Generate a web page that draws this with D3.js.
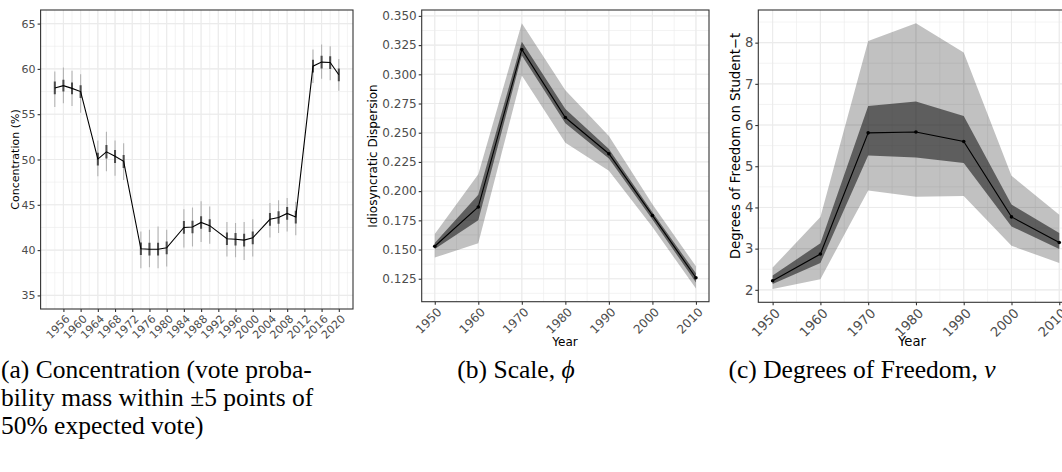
<!DOCTYPE html>
<html>
<head>
<meta charset="utf-8">
<script src="https://cdn.jsdelivr.net/npm/d3@7"></script>
<style>
  html, body { margin: 0; padding: 0; background: #fff; }
  svg { display: block; }
</style>
</head>
<body>
<script>
// ---------- (a) Concentration by election year ----------
const concYears = [1954, 1956, 1958, 1960, 1964, 1966, 1968, 1970, 1974, 1976, 1978, 1980, 1984, 1986,
                   1988, 1990, 1994, 1996, 1998, 2000, 2004, 2006, 2008, 2010, 2014, 2016, 2018, 2020];
const concMean = [57.9, 58.15, 57.85, 57.5, 50.05, 50.85, 50.35, 49.8, 40.15, 40.1, 40.1, 40.25, 42.5, 42.55,
                  43.05, 42.7, 41.25, 41.2, 41.1, 41.35, 43.4, 43.6, 44.05, 43.65, 60.3, 60.75, 60.7, 59.35];
const concLo95 = [55.8, 56.2, 55.9, 55.15, 48.15, 48.7, 48.2, 47.75, 38.0, 38.1, 38.0, 38.2, 40.3, 40.4,
                  40.9, 40.7, 39.3, 39.2, 38.9, 39.3, 41.4, 41.9, 42.05, 41.65, 58.45, 58.9, 58.75, 57.6];
const concHi95 = [59.7, 60.15, 59.8, 59.4, 52.1, 53.05, 52.1, 51.8, 42.05, 42.25, 42.6, 42.25, 44.5, 44.7,
                  45.4, 44.8, 43.1, 43.0, 43.1, 43.4, 45.2, 45.5, 45.75, 45.35, 62.15, 62.7, 62.5, 61.1];
const concLo50 = [57.2, 57.5, 57.2, 56.8, 49.35, 50.1, 49.6, 49.05, 39.45, 39.4, 39.4, 39.55, 41.8, 41.85,
                  42.35, 42.0, 40.55, 40.5, 40.4, 40.65, 42.7, 42.9, 43.35, 42.95, 59.6, 60.05, 60.0, 58.65];
const concHi50 = [58.6, 58.8, 58.5, 58.2, 50.75, 51.6, 51.05, 50.5, 40.85, 40.8, 40.8, 40.95, 43.2, 43.25,
                  43.75, 43.4, 41.95, 41.9, 41.8, 42.05, 44.1, 44.3, 44.75, 44.35, 61.0, 61.45, 61.4, 60.05];
const concXTicks = [1956, 1960, 1964, 1968, 1972, 1976, 1980, 1984, 1988, 1992, 1996, 2000, 2004, 2008, 2012, 2016, 2020];
const concYTicks = [35, 40, 45, 50, 55, 60, 65];

// ---------- (b) Scale and (c) degrees of freedom by decade ----------
const decades = [1950, 1960, 1970, 1980, 1990, 2000, 2010];
const phiMean = [0.1528, 0.1864, 0.3213, 0.2630, 0.2320, 0.1792, 0.1258];
const phiLo95 = [0.1431, 0.1554, 0.2989, 0.2415, 0.2174, 0.1692, 0.1167];
const phiHi95 = [0.1634, 0.2145, 0.3437, 0.2863, 0.2472, 0.1887, 0.1356];
const phiLo50 = [0.1505, 0.1750, 0.3161, 0.2582, 0.2280, 0.1758, 0.1218];
const phiHi50 = [0.1557, 0.1970, 0.3279, 0.2702, 0.2360, 0.1820, 0.1296];
const phiYTicks = [0.125, 0.150, 0.175, 0.200, 0.225, 0.250, 0.275, 0.300, 0.325, 0.350];

const nuMean = [2.22, 2.87, 5.81, 5.83, 5.60, 3.77, 3.15];
const nuLo95 = [2.02, 2.26, 4.41, 4.26, 4.28, 3.07, 2.65];
const nuHi95 = [2.54, 3.77, 8.04, 8.47, 7.76, 4.77, 3.82];
const nuLo50 = [2.14, 2.65, 5.26, 5.21, 5.08, 3.54, 2.99];
const nuHi50 = [2.35, 3.13, 6.46, 6.57, 6.22, 4.07, 3.38];
const nuYTicks = [2, 3, 4, 5, 6, 7, 8];

const W = 1062, H = 472;
const SANS = "'DejaVu Sans', 'Liberation Sans', Arial, sans-serif";
const SERIF = "'Liberation Serif', 'Times New Roman', 'DejaVu Serif', serif";

const svg = d3.select("body").append("svg")
  .attr("width", W).attr("height", H)
  .attr("viewBox", `0 0 ${W} ${H}`);
svg.append("rect").attr("width", W).attr("height", H).attr("fill", "#fff");

// ggplot-style 5% padding around a data range
function padded(lo, hi) {
  const r = hi - lo;
  return [lo - 0.05 * r, hi + 0.05 * r];
}

// midpoints between consecutive breaks, extended one step at each end
function minorBreaks(major, domain) {
  const step = major[1] - major[0];
  const ext = [major[0] - step, ...major, major[major.length - 1] + step];
  const out = [];
  for (let i = 0; i < ext.length - 1; i++) out.push(ext[i], (ext[i] + ext[i + 1]) / 2);
  out.push(ext[ext.length - 1]);
  const [a, b] = domain[0] < domain[1] ? domain : [domain[1], domain[0]];
  return out.filter(v => v >= a && v <= b);
}

let clipId = 0;
function panel(cfg) {
  const g = svg.append("g");
  const x = d3.scaleLinear().domain(cfg.xDomain).range([cfg.left, cfg.right]);
  const y = d3.scaleLinear().domain(cfg.yDomain).range([cfg.bottom, cfg.top]);
  const id = "clip" + (clipId++);
  g.append("clipPath").attr("id", id).append("rect")
    .attr("x", cfg.left).attr("y", cfg.top)
    .attr("width", cfg.right - cfg.left).attr("height", cfg.bottom - cfg.top);

  const plot = g.append("g").attr("clip-path", `url(#${id})`);
  const grid = plot.append("g").attr("stroke", "#ebebeb").attr("fill", "none");
  const xMin = minorBreaks(cfg.xTicks, cfg.xDomain);
  const yMin = minorBreaks(cfg.yTicks, cfg.yDomain);
  grid.selectAll(".xm").data(xMin).join("line").attr("stroke-width", 0.6)
    .attr("x1", d => x(d)).attr("x2", d => x(d)).attr("y1", cfg.top).attr("y2", cfg.bottom);
  grid.selectAll(".ym").data(yMin).join("line").attr("stroke-width", 0.6)
    .attr("y1", d => y(d)).attr("y2", d => y(d)).attr("x1", cfg.left).attr("x2", cfg.right);
  grid.selectAll(".xM").data(cfg.xTicks).join("line").attr("stroke-width", 1.1)
    .attr("x1", d => x(d)).attr("x2", d => x(d)).attr("y1", cfg.top).attr("y2", cfg.bottom);
  grid.selectAll(".yM").data(cfg.yTicks).join("line").attr("stroke-width", 1.1)
    .attr("y1", d => y(d)).attr("y2", d => y(d)).attr("x1", cfg.left).attr("x2", cfg.right);

  cfg.draw(plot.append("g"), x, y);

  g.append("rect")
    .attr("x", cfg.left).attr("y", cfg.top)
    .attr("width", cfg.right - cfg.left).attr("height", cfg.bottom - cfg.top)
    .attr("fill", "none").attr("stroke", "#333").attr("stroke-width", 1.1);

  // y axis
  const ya = g.append("g").attr("transform", `translate(${cfg.left},0)`)
    .call(d3.axisLeft(y).tickValues(cfg.yTicks).tickFormat(cfg.yFmt).tickSize(3).tickPadding(2));
  ya.select(".domain").remove();
  ya.selectAll(".tick line").attr("stroke", "#333").attr("stroke-width", 1.1);
  ya.selectAll(".tick text").attr("fill", "#4d4d4d")
    .style("font-family", SANS).style("font-size", cfg.fs + "px");

  // x axis with labels at 45 degrees
  const xa = g.append("g").attr("transform", `translate(0,${cfg.bottom})`)
    .call(d3.axisBottom(x).tickValues(cfg.xTicks).tickFormat(d3.format("d")).tickSize(3));
  xa.select(".domain").remove();
  xa.selectAll(".tick line").attr("stroke", "#333").attr("stroke-width", 1.1);
  xa.selectAll(".tick text")
    .attr("fill", "#4d4d4d").attr("text-anchor", "end")
    .attr("x", 0).attr("y", 0).attr("dy", "0.72em")
    .attr("transform", `translate(1,${cfg.labGap}) rotate(-45)`)
    .style("font-family", SANS).style("font-size", cfg.fs + "px");

  // titles
  g.append("text")
    .attr("transform", `translate(${cfg.yTitleX},${cfg.yTitleY}) rotate(-90)`)
    .attr("text-anchor", "middle").attr("fill", "#000")
    .style("font-family", SANS).style("font-size", cfg.fs + "px")
    .text(cfg.yTitle);
  if (cfg.xTitle) {
    g.append("text")
      .attr("x", cfg.xTitleX).attr("y", cfg.xTitleY)
      .attr("text-anchor", "middle").attr("fill", "#000")
      .style("font-family", SANS).style("font-size", cfg.fs + "px")
      .text(cfg.xTitle);
  }
}

// ribbons + line + points for the decade panels
function bandDraw(lo95, hi95, lo50, hi50, mean) {
  return (g, x, y) => {
    const area = (lo, hi) => d3.area()
      .x((d, i) => x(decades[i])).y0((d, i) => y(lo[i])).y1((d, i) => y(hi[i]));
    g.append("path").datum(decades).attr("d", area(lo95, hi95)).attr("fill", "#000").attr("fill-opacity", 0.245);
    g.append("path").datum(decades).attr("d", area(lo50, hi50)).attr("fill", "#000").attr("fill-opacity", 0.51);
    g.append("path").datum(decades)
      .attr("d", d3.line().x((d, i) => x(decades[i])).y((d, i) => y(mean[i])))
      .attr("fill", "none").attr("stroke", "#000").attr("stroke-width", 1.1);
    g.selectAll("circle").data(decades).join("circle")
      .attr("cx", d => x(d)).attr("cy", (d, i) => y(mean[i])).attr("r", 1.8).attr("fill", "#000");
  };
}

// (a)
panel({
  left: 40.6, right: 353, top: 10, bottom: 309,
  xDomain: padded(d3.min(concYears), d3.max(concYears)),
  yDomain: padded(35, 65),
  xTicks: concXTicks, yTicks: concYTicks,
  yFmt: d3.format("d"), fs: 11, labGap: 5,
  yTitle: "Concentration (%)", yTitleX: 19, yTitleY: 159.5,
  draw: (g, x, y) => {
    g.selectAll(".o").data(concYears).join("line")
      .attr("x1", d => x(d)).attr("x2", d => x(d))
      .attr("y1", (d, i) => y(concLo95[i])).attr("y2", (d, i) => y(concHi95[i]))
      .attr("stroke", "#b3b3b3").attr("stroke-width", 1.1);
    g.selectAll(".n").data(concYears).join("line")
      .attr("x1", d => x(d)).attr("x2", d => x(d))
      .attr("y1", (d, i) => y(concLo50[i])).attr("y2", (d, i) => y(concHi50[i]))
      .attr("stroke", "#4a4a4a").attr("stroke-width", 2);
    g.append("path").datum(concYears)
      .attr("d", d3.line().x(d => x(d)).y((d, i) => y(concMean[i])))
      .attr("fill", "none").attr("stroke", "#000").attr("stroke-width", 1.1);
  }
});

// (b)
panel({
  left: 421.7, right: 709, top: 10, bottom: 301.7,
  xDomain: padded(1950, 2010),
  yDomain: padded(d3.min(phiLo95), d3.max(phiHi95)),
  xTicks: decades, yTicks: phiYTicks,
  yFmt: d3.format(".3f"), fs: 12, labGap: 5,
  yTitle: "Idiosyncratic Dispersion", yTitleX: 376.5, yTitleY: 156,
  xTitle: "Year", xTitleX: 565, xTitleY: 346,
  draw: bandDraw(phiLo95, phiHi95, phiLo50, phiHi50, phiMean)
});

// (c)
panel({
  left: 758.3, right: 1073.6, top: 10, bottom: 302.3,
  xDomain: padded(1950, 2010),
  yDomain: padded(d3.min(nuLo95), d3.max(nuHi95)),
  xTicks: decades, yTicks: nuYTicks,
  yFmt: d3.format("d"), fs: 13.2, labGap: 5,
  yTitle: "Degrees of Freedom on Student\u2212t", yTitleX: 739.5, yTitleY: 146,
  xTitle: "Year", xTitleX: 912, xTitleY: 346,
  draw: bandDraw(nuLo95, nuHi95, nuLo50, nuHi50, nuMean)
});

// sub-figure captions
const cap = svg.append("g").attr("fill", "#000")
  .style("font-family", SERIF).style("font-size", "25.5px");
const capA = ["(a) Concentration (vote proba-", "bility mass within \u00b15 points of", "50% expected vote)"];
cap.selectAll(".ca").data(capA).join("text")
  .attr("x", 1).attr("y", (d, i) => 378 + 28 * i)
  .text(d => d);
const tb = cap.append("text").attr("x", 516).attr("y", 378).attr("text-anchor", "middle");
tb.append("tspan").text("(b) Scale, ");
tb.append("tspan").attr("font-style", "italic").text("\u03d5");
const tc = cap.append("text").attr("x", 862).attr("y", 378).attr("text-anchor", "middle");
tc.append("tspan").text("(c) Degrees of Freedom, ");
tc.append("tspan").attr("font-style", "italic").text("\u03bd");
</script>
</body>
</html>
